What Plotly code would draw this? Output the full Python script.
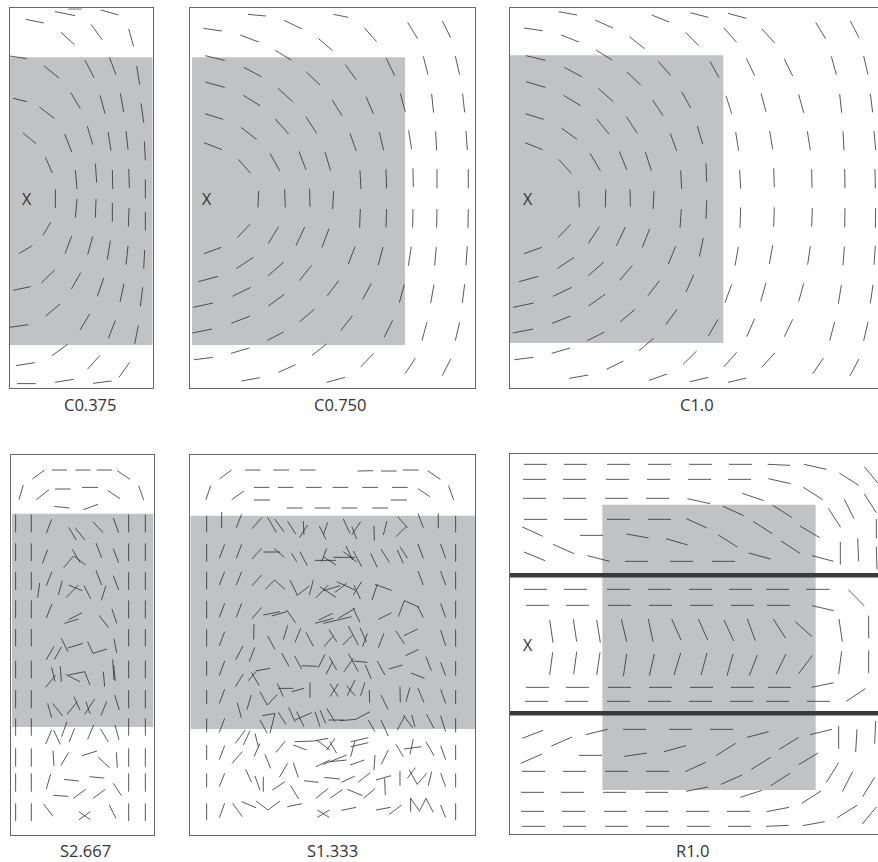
import plotly.graph_objects as go

W, H = 878, 862
INK = "#2e2e30"
GREY = "#c1c2c4"

# Each segment: (x0, y0, x1, y1) in a 3x panel grid
seg_c0375 = [
(165,35,225,47),(205,27,245,27),(302,30,355,45),(77,58,131,69),(183,97,224,135),(273,73,306,119),(386,87,401,140),(29,168,80,176),
(132,198,177,234),(255,181,282,233),(328,172,348,224),(410,198,419,254),(212,278,241,326),(300,286,315,341),(361,280,371,336),(423,310,431,368),
(39,295,81,305),(118,321,163,355),(69,399,108,431),(194,402,215,456),(262,379,278,434),(324,396,333,452),(378,393,384,449),(433,424,436,481),
(136,472,157,519),(226,511,231,567),(286,491,290,548),(337,510,338,567),(386,507,388,564),(436,539,436,596),(166,568,166,624),(231,597,226,653),
(288,597,286,653),(337,609,337,665),(387,624,385,680),(436,636,436,692),(152,667,129,706),(215,708,195,761),(278,709,263,764),(331,722,322,779),
(384,738,378,794),(434,750,431,806),(97,737,58,760),(164,810,124,849),(242,818,214,867),(311,834,292,889),(372,851,360,906),(428,862,421,919),
(39,871,92,860),(180,912,136,949),(269,942,240,990),(346,962,325,1015),(415,976,404,1032),(29,982,85,974),(203,1033,156,1067),(48,1097,104,1088),
(300,1066,262,1108),(389,1087,357,1132),(51,1151,107,1151),(165,1147,221,1138),(279,1150,335,1143),
]
seg_c0750 = [
(204,43,258,48),(313,61,366,87),(461,43,505,52),(70,85,126,93),(181,105,236,126),(553,83,590,125),(683,67,713,116),(787,63,812,113),(415,115,458,152),
(286,151,334,180),(76,167,134,181),(730,169,744,224),(826,168,839,224),(192,202,244,230),(379,216,420,255),(496,194,529,239),(619,175,644,227),
(76,246,134,262),(294,265,338,305),(190,286,240,317),(457,300,486,347),(558,290,580,341),(661,280,676,335),(755,282,761,338),(848,281,854,337),
(75,341,130,358),(183,382,230,418),(286,357,326,402),(378,350,410,400),(510,400,529,453),(598,396,611,451),(686,391,695,447),(767,394,770,451),
(858,393,862,450),(72,428,126,449),(175,478,212,520),(270,460,299,512),(357,454,378,509),(435,456,452,512),(540,511,543,567),(618,508,620,565),
(699,505,700,561),(771,507,771,565),(865,507,865,565),(236,573,234,622),(314,568,316,622),(389,566,390,620),(461,573,458,627),(541,627,539,683),
(620,627,618,682),(699,627,698,683),(771,627,770,683),(865,627,864,683),(210,673,172,713),(296,680,265,730),(374,681,348,737),(447,686,426,742),
(525,740,505,792),(609,741,595,795),(694,740,685,797),(769,741,764,797),(862,739,858,796),(124,742,72,761),(220,772,169,806),(311,786,265,827),
(395,796,358,842),(476,842,442,887),(574,850,548,898),(673,853,658,908),(762,854,752,910),(854,853,847,909),(114,829,55,845),(212,862,157,889),
(313,883,265,918),(403,928,359,965),(517,948,482,992),(638,961,613,1011),(741,966,726,1022),(839,967,826,1022),(39,922,99,909),(210,948,154,970),
(311,996,262,1021),(96,987,37,999),(440,1032,396,1066),(208,1044,153,1060),(99,1072,42,1079),(581,1060,542,1101),(706,1075,675,1121),(812,1077,787,1127),
(347,1094,295,1117),(240,1133,184,1143),(495,1132,440,1147),
]
seg_c10 = [
(176,35,231,45),(285,60,339,84),(455,45,508,66),(571,38,625,52),(684,40,739,55),(72,84,128,92),(183,105,237,126),(557,97,596,137),(672,84,710,127),
(785,86,824,129),(947,67,977,116),(1051,63,1077,113),(388,110,434,146),(288,150,336,180),(78,167,136,181),(193,202,245,230),(475,184,512,227),
(630,184,657,233),(739,175,764,227),(853,177,878,228),(994,169,1009,224),(1091,168,1104,224),(381,216,422,255),(78,245,136,262),(295,265,340,305),
(545,275,572,324),(191,286,242,317),(458,300,489,347),(678,287,695,341),(783,280,798,335),(896,283,911,338),(1019,282,1025,338),(1111,281,1118,337),
(76,341,131,358),(184,384,231,418),(290,357,327,402),(379,350,412,400),(592,378,608,432),(511,400,530,453),(707,396,716,452),(809,393,818,448),
(922,394,931,450),(1029,394,1032,451),(1122,393,1127,450),(75,428,128,449),(176,478,214,520),(270,460,301,512),(358,454,380,509),(436,456,454,512),
(618,490,620,545),(542,511,545,567),(719,510,722,566),(821,505,823,561),(935,507,936,563),(1034,507,1035,565),(1125,507,1126,565),(236,573,238,622),
(317,568,316,622),(390,568,391,620),(462,573,459,627),(620,601,618,657),(544,627,540,683),(722,622,720,683),(823,622,821,680),(937,624,935,680),
(1035,624,1034,682),(1127,624,1126,683),(212,673,174,713),(298,680,265,730),(376,681,349,737),(449,686,427,742),(610,714,598,770),(527,739,505,792),
(715,741,705,797),(818,736,808,792),(931,738,923,794),(1033,740,1029,796),(1126,737,1122,794),(125,742,72,761),(222,772,171,806),(311,786,265,827),
(397,796,359,841),(581,824,558,876),(478,842,444,887),(695,853,675,908),(798,848,782,904),(911,850,896,905),(1024,855,1015,911),(1119,854,1111,910),
(115,829,57,845),(215,862,159,889),(315,883,265,918),(405,928,361,965),(532,927,498,973),(39,922,101,909),(212,948,156,970),(654,958,625,1008),
(764,956,740,1010),(878,958,853,1010),(1004,966,989,1022),(1104,966,1091,1022),(99,987,38,999),(313,996,262,1022),(461,1015,417,1052),(210,1044,155,1060),
(100,1072,43,1079),(590,1053,549,1093),(710,1057,671,1101),(824,1059,785,1102),(970,1075,938,1121),(1077,1077,1050,1127),(370,1083,319,1108),
(265,1125,207,1135),(501,1122,447,1141),(625,1132,570,1145),(739,1134,684,1147),
]
col_s2667_x = [47, 94, 386, 436]
col_s2667_y = [(208,262),(295,348),(381,435),(466,520),(552,604),(647,700),(735,790),(820,872),(910,965),(985,1040),(1075,1128)]
seg_s2667 = [
(134,75,97,102),(156,75,201,75),(226,75,271,75),(290,75,336,75),(352,77,390,103),(70,120,57,164),(147,134,109,164),(165,132,212,132),(246,127,294,127),
(323,136,360,161),(416,122,431,165),(163,184,208,189),(250,194,294,178),(155,223,139,265),(206,247,229,285),(225,248,255,285),(279,230,309,263),
(340,219,356,263),(143,314,127,356),(217,313,240,352),(220,333,191,368),(222,333,257,360),(288,294,305,338),(340,311,356,353),(156,380,139,422),
(119,414,113,458),(187,407,175,450),(206,420,247,437),(235,420,198,458),(252,422,273,462),(288,376,305,420),(340,392,356,435),(318,422,304,466),
(156,477,139,519),(247,503,206,524),(235,522,193,535),(297,511,326,548),(336,492,350,535),(162,604,139,644),(184,606,163,644),(184,580,204,620),
(203,609,249,595),(263,590,279,625),(279,625,321,612),(342,581,350,623),(167,690,137,727),(155,667,165,709),(181,664,184,710),(197,688,240,710),
(205,690,254,680),(254,680,270,720),(310,680,314,725),(338,643,342,705),(341,660,346,708),(143,775,155,818),(158,775,188,813),(222,755,240,795),
(232,770,201,808),(284,762,254,808),(258,770,270,806),(320,769,303,812),(344,750,358,795),(201,830,185,875),(155,855,137,897),(161,855,181,898),
(224,850,207,892),(281,840,263,883),(301,851,325,891),(345,840,357,884),(159,917,162,963),(206,922,183,961),(291,918,246,932),(295,937,329,968),
(349,922,352,968),(152,987,139,1032),(192,1003,237,1008),(268,995,313,999),(340,1015,365,1052),(160,1051,205,1054),(257,1033,220,1060),(316,1033,279,1060),
(131,1077,159,1114),(237,1100,271,1124),(271,1100,237,1124),(328,1080,348,1120),
]
col_s1333_x = [80, 827]
col_s1333_y = [(212,262),(297,350),(380,433),(467,520),(553,605),(648,692),(735,777),(820,862),(900,945),(985,1027),(1075,1125)]
seg_s1333 = [
(155,75,118,102),(195,75,242,75),(280,75,327,75),(360,75,407,75),(533,78,580,77),(603,78,650,78),(669,75,716,75),(743,77,781,103),(92,122,78,164),
(192,138,155,164),(222,127,268,127),(294,127,340,127),(378,127,425,127),(458,127,505,127),(547,127,594,127),(636,127,683,127),(714,131,750,155),
(806,122,821,165),(222,165,270,165),(633,165,681,165),(321,189,368,189),(404,189,451,189),(485,189,532,189),(577,189,624,189),
(125,201,125,249),(134,298,118,340),(134,380,118,420),(134,475,118,517),(134,560,118,602),(134,648,118,692),(134,733,118,775),(134,820,118,862),
(134,902,118,944),(134,985,118,1025),(134,1075,118,1118),(185,208,169,248),(185,298,169,340),(185,380,169,420),(185,475,169,517),(222,537,221,583),
(189,603,167,644),(224,607,208,650),(190,687,166,725),(214,750,201,793),(172,773,184,818),
(246,217,216,251),(263,217,289,262),(284,222,312,260),(323,229,348,268),(383,240,358,278),(370,228,372,270),(438,283,418,243),(443,232,430,270),
(490,222,510,265),(516,245,530,282),(542,230,515,270),(582,243,583,287),(621,228,610,270),(680,243,648,275),(653,215,683,248),(714,205,730,248),(775,205,775,250),
(245,310,216,342),(251,321,300,321),(282,310,313,337),(335,325,350,350),(360,320,382,362),(405,346,468,346),(440,310,425,350),(430,335,468,360),
(460,337,525,337),(498,303,518,345),(490,320,530,350),(520,318,545,365),(572,325,592,367),(603,312,628,352),(652,315,670,355),(660,305,683,340),
(714,297,730,340),(782,297,797,340),
(245,390,216,422),(256,433,284,405),(284,405,315,433),(330,405,352,450),(350,452,388,423),(400,405,388,450),(445,420,408,458),(420,425,468,457),
(430,437,480,422),(470,410,525,435),(500,415,465,442),(545,410,520,450),(522,420,541,462),(592,418,576,465),(585,418,635,436),(714,378,730,420),(782,378,797,420),
(245,487,216,521),(250,510,300,500),(275,513,320,500),(320,495,347,533),(458,505,416,525),(405,535,460,520),(430,535,515,515),(475,520,525,490),
(520,490,540,532),(635,503,595,523),(673,467,655,515),(673,467,718,487),(713,484,730,517),(782,475,797,517),
(263,573,285,613),(323,541,310,584),(362,550,345,592),(378,562,400,604),(447,553,470,590),(458,575,432,605),(505,543,535,600),(518,570,488,600),
(540,548,560,592),(562,565,548,605),(612,565,595,608),(648,558,673,596),(713,552,672,572),(782,555,797,602),
(305,624,327,664),(344,633,365,672),(365,662,412,664),(435,628,415,668),(448,635,470,675),(458,650,438,688),(505,625,535,680),(520,640,492,680),
(522,648,562,652),(556,660,574,702),(592,648,615,690),(668,660,626,672),(716,613,676,632),(738,635,754,677),(782,652,797,692),(734,700,693,684),
(271,670,230,677),(232,675,205,707),(215,683,238,722),(240,740,262,780),(262,780,292,748),(292,715,310,755),(295,730,340,730),(335,740,372,730),
(390,712,390,758),(450,716,475,755),(475,716,450,755),(500,722,525,752),(525,705,502,752),(555,712,542,752),(568,735,569,773),(603,750,624,793),
(660,725,661,772),(690,727,678,770),(714,730,732,772),(782,733,797,775),
(247,812,285,805),(285,805,270,865),(240,825,262,865),(295,802,318,838),(326,787,345,830),(345,825,395,803),(350,800,372,845),(405,800,420,845),
(420,795,437,835),(440,790,465,830),(445,825,490,825),(480,827,527,823),(527,823,570,800),(565,825,585,860),(603,825,625,873),(652,855,675,812),
(670,810,698,848),(695,810,705,845),(740,808,762,850),(782,812,797,860),
(196,855,166,895),(210,857,190,900),(225,865,235,905),(240,895,222,935),(316,888,288,922),(340,900,380,915),(345,890,400,888),(400,888,445,880),
(410,885,450,915),(465,880,440,915),(450,890,470,925),(525,888,512,935),(513,890,565,878),(512,905,565,893),(648,898,670,935),(700,882,690,928),
(672,912,725,905),(738,890,762,932),(782,902,797,944),
(187,920,156,955),(255,928,272,970),(408,965,450,945),(430,958,500,930),(450,950,500,945),(510,960,553,945),(585,930,582,975),(625,915,604,958),
(323,955,298,997),(340,953,355,997),
(197,973,215,1012),(225,993,240,1035),(250,995,250,1040),(315,1010,277,1035),(372,1007,416,1012),(433,997,480,1002),(525,993,484,1012),(571,983,534,1012),
(588,1005,633,992),(660,978,660,1022),(706,968,682,1000),(688,975,712,1018),(740,985,712,1018),(755,980,745,1022),(782,985,797,1025),
(332,1022,356,1062),(445,1030,408,1060),(488,1033,450,1060),(502,1033,548,1052),(586,1030,551,1060),(614,1000,616,1050),(158,1075,187,1115),
(185,1070,228,1088),(228,1068,264,1095),(264,1095,300,1068),(322,1085,366,1076),(412,1095,448,1117),(448,1095,412,1117),(484,1096,528,1087),
(588,1095,632,1087),(665,1080,628,1108),(692,1058,692,1100),(692,1060,720,1100),(720,1095,738,1060),(738,1060,760,1102),(782,1080,797,1118),
]
# Level dashes of R1.0: row y and the x where each dash starts (all the same length)
rows_r10 = [
(58,[72,192,321,444,567,687]),(103,[69,189,318,441,564,684]),(160,[69,189,315,438]),(223,[72,192,321,444]),(349,[375,510,636]),
(433,[72,192,321,444,567,687,798]),(481,[78,198,324,447,570,693,801]),(727,[78,198,324,447,570,693,804]),(769,[75,195,321,444,567,690,798,921]),
(853,[369,507,630]),(979,[66,189,315,438]),(1042,[63,183,309,435]),(1099,[63,186,312,435,558,681]),(1144,[66,189,315,438,561,684]),
]
dash_r10 = 69
seg_r10 = [
(803,58,870,61),(912,58,980,73),(1018,84,1076,121),(1093,65,1134,115),(805,101,872,116),(910,127,968,164),(1093,147,1129,203),(562,161,630,176),
(727,145,791,167),(1033,163,1062,221),(985,190,1022,247),(559,221,621,249),(669,184,731,212),(818,181,875,217),(67,246,129,274),(240,271,309,271),
(379,267,446,279),(498,281,563,300),(655,270,712,306),(759,229,817,266),(900,243,959,278),(1129,222,1129,280),(159,298,222,326),(72,321,135,347),
(262,332,329,349),(746,324,812,342),(843,288,900,325),(936,332,1001,349),(1021,291,1021,359),(1073,280,1076,349),(1129,305,1131,373),
(1045,434,1093,483),(936,482,1001,497),(918,433,989,433),
(149,525,159,593),(220,523,230,590),(290,525,301,593),(364,523,380,590),(445,522,459,590),(515,522,543,585),(595,522,623,585),(672,525,701,588),
(742,522,766,587),(820,522,857,580),(885,529,936,575),(1017,522,1027,590),(1106,512,1106,580),
(158,622,149,690),(230,620,221,688),(300,622,290,690),(380,627,370,694),(463,627,448,692),(542,624,522,690),(621,624,603,690),(699,627,681,692),
(772,630,748,692),(858,627,828,688),(937,631,896,686),(1025,619,1016,687),(1106,616,1106,684),
(935,727,1001,713),(1039,769,1096,731),
(67,880,129,856),(154,903,216,876),(257,869,323,853),(741,877,806,860),(838,913,896,877),(930,869,996,853),(1016,843,1016,911),(1071,853,1067,921),
(1127,828,1124,896),(62,955,126,927),(237,931,306,931),(373,934,441,924),(492,920,558,902),(648,932,707,895),(754,973,812,937),(896,959,954,924),
(1016,953,979,1012),(1058,980,1027,1040),(555,980,617,952),(663,1018,726,990),(812,1022,870,985),(1124,997,1088,1055),(558,1039,624,1026),
(721,1057,786,1036),(905,1075,963,1038),(800,1100,867,1087),(1012,1118,1071,1081),(1087,1137,1130,1085),(798,1144,866,1141),(908,1142,974,1130),
]
bars_r10_y = [391, 805]

def expand_cols(xs, ys):
    return [(x, a, x, b) for x in xs for a, b in ys]

def expand_rows(rows, d):
    return [(x, y, x + d, y) for y, starts in rows for x in starts]

# name, segments, frame (x0,x1,y0,y1), window in px (left,right,top,bottom), grey (x0,x1,y0,y1), X mark, closed right side, label x,y px
panels = [
 dict(name="C0.375", seg=seg_c0375, frame=(29,458,25,1165), px=(9.7,152.7,8.3,388.3), grey=(29,458,172,1035), mark=(81,598), closed=True, lab=(90,404)),
 dict(name="C0.750", seg=seg_c0750, frame=(31,886,23,1163), px=(190.3,475.3,7.7,387.7), grey=(36,675,172,1035), mark=(82,597), closed=True, lab=(340,404)),
 dict(name="C1.0", seg=seg_c10, frame=(29,1134,23,1163), px=(509.7,878,7.7,387.7), grey=(29,670,166,1029), mark=(84,596), closed=False, lab=(697,404)),
 dict(name="S2.667", seg=seg_s2667+expand_cols(col_s2667_x,col_s2667_y), frame=(34,462,29,1169), px=(11.3,154,454.7,834.7), grey=(36,460,206,846), mark=None, closed=True, lab=(85,850)),
 dict(name="S1.333", seg=seg_s1333+expand_cols(col_s1333_x,col_s1333_y), frame=(31,886,29,1169), px=(190.3,475.3,454.7,834.7), grey=(31,886,212,852), mark=None, closed=True, lab=(332,850)),
 dict(name="R1.0", seg=seg_r10+expand_rows(rows_r10,dash_r10), frame=(29,1134,27,1167), px=(509.7,878,454,834), grey=(307,947,179,1035), mark=(84,600), closed=False, lab=(692,850)),
]

fig = go.Figure()
layout = dict(width=W, height=H, margin=dict(l=0,r=0,t=0,b=0), paper_bgcolor="white", plot_bgcolor="rgba(0,0,0,0)",
              showlegend=False, shapes=[], annotations=[], font=dict(family="Open Sans", color="#333"))
for i, p in enumerate(panels, 1):
    xs, ys = [], []
    for x0, y0, x1, y1 in p["seg"]:
        xs += [x0, x1, None]
        ys += [y0, y1, None]
    s = "" if i == 1 else str(i)
    fig.add_trace(go.Scatter(x=xs, y=ys, mode="lines", xaxis="x"+s, yaxis="y"+s, line=dict(color=INK, width=0.8), hoverinfo="skip"))
    l, r, t, b = p["px"]
    fx0, fx1, fy0, fy1 = p["frame"]
    layout["xaxis"+s] = dict(domain=[l/W, r/W], range=[fx0, fx1], anchor="y"+s, showgrid=False, zeroline=False, showticklabels=False, ticks="",
                             showline=True, mirror=True, linecolor="#666", linewidth=1)
    layout["yaxis"+s] = dict(domain=[1-b/H, 1-t/H], range=[fy1, fy0], anchor="x"+s, showgrid=False, zeroline=False, showticklabels=False, ticks="",
                             showline=True, mirror=p["closed"], linecolor="#666", linewidth=1)
    g = p["grey"]
    layout["shapes"].append(dict(type="rect", xref="x"+s, yref="y"+s, x0=g[0], x1=g[1], y0=g[2], y1=g[3], fillcolor=GREY, line=dict(width=0), layer="below"))
    if p["mark"]:
        layout["annotations"].append(dict(x=p["mark"][0], y=p["mark"][1], xref="x"+s, yref="y"+s, text="X", showarrow=False,
                                          xanchor="center", yanchor="middle", font=dict(size=16, color="#333")))
    layout["annotations"].append(dict(x=p["lab"][0]/W, y=1-p["lab"][1]/H, xref="paper", yref="paper", text=p["name"], showarrow=False,
                                      xanchor="center", yanchor="middle", borderpad=0, font=dict(size=16.5, color="#333")))

# Heavy bars across R1.0
fig.add_trace(go.Scatter(x=[v for y in bars_r10_y for v in (29, 1134, None)], y=[v for y in bars_r10_y for v in (y, y, None)], mode="lines",
                         xaxis="x6", yaxis="y6", line=dict(color="#3a3a3c", width=4.5), hoverinfo="skip"))
fig.update_layout(**layout)
fig.write_html("out.html", config=dict(displayModeBar=False), post_script="document.body.style.margin='0';")
